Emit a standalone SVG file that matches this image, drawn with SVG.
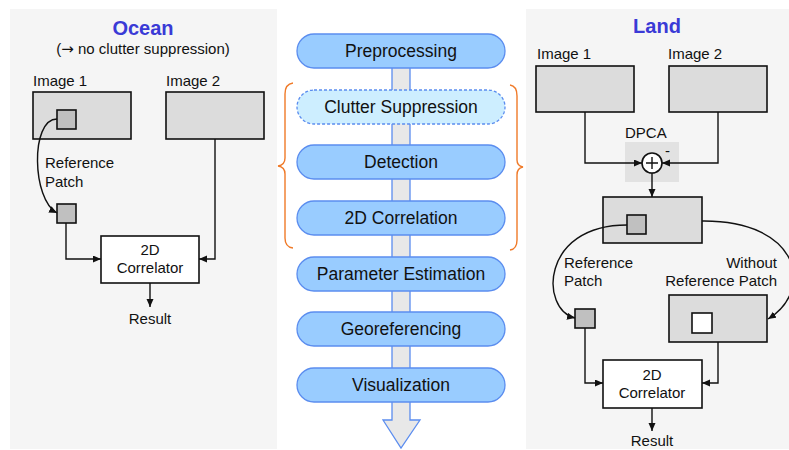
<svg xmlns="http://www.w3.org/2000/svg" width="789" height="450" viewBox="0 0 789 450">
<style>
text{font-family:"Liberation Sans",Arial,sans-serif;fill:#111}
.lbl{font-size:15px}
.ttl{font-size:20px;font-weight:bold;fill:#3a3ad6}
.pt{font-size:17.5px;text-anchor:middle}
.pill{fill:#99ccff;stroke:#5b8def;stroke-width:1.3}
.img{fill:#dcdcdc;stroke:#111;stroke-width:1.6}
.patch{fill:#c0c0c0;stroke:#111;stroke-width:1.6}
.box{fill:#fff;stroke:#111;stroke-width:1.6}
.con{fill:none;stroke:#111;stroke-width:1.4}
.brace{fill:none;stroke:#f07a28;stroke-width:1.4}
.mid{text-anchor:middle}
.end{text-anchor:end}
</style>
<defs>
<marker id="ah" markerUnits="userSpaceOnUse" markerWidth="9" markerHeight="8" refX="8" refY="3.5" orient="auto">
<path d="M0,0 L8,3.5 L0,7 z" fill="#111"/>
</marker>
</defs>
<rect x="10" y="9" width="267" height="440" fill="#f5f5f5"/>
<rect x="526" y="9" width="263" height="440" fill="#f5f5f5"/>

<g id="ocean">
<text class="ttl mid" x="143" y="35">Ocean</text>
<text class="lbl mid" x="143" y="54">(<tspan font-family="DejaVu Sans, sans-serif">→</tspan> no clutter suppression)</text>
</g>
<g id="o-image1">
<text class="lbl" x="33" y="86">Image 1</text>
<rect class="img" x="33" y="92" width="98" height="47"/>
<rect class="patch" x="57" y="110" width="19" height="19"/>
</g>
<g id="o-image2">
<text class="lbl" x="166" y="86">Image 2</text>
<rect class="img" x="166" y="92" width="98" height="47"/>
</g>
<g id="o-refpatch">
<text class="lbl" x="45" y="168">Reference</text>
<text class="lbl" x="45" y="187">Patch</text>
<rect class="patch" x="57" y="204" width="19" height="19"/>
</g>
<g id="o-correlator">
<rect class="box" x="101" y="236" width="98" height="47"/>
<text class="lbl mid" x="150" y="255">2D</text>
<text class="lbl mid" x="150" y="273">Correlator</text>
</g>
<g id="o-result"><text class="lbl mid" x="150" y="324">Result</text></g>

<g id="pipeline-arrow">
<path d="M392,50 H410 V420 H420 L401,448 L383,420 H392 Z" fill="#e8e8e8" stroke="#5b8def" stroke-width="1.3"/>
</g>
<g id="p-pre"><rect class="pill" x="297" y="34" width="208" height="34" rx="17"/><text class="pt" x="401" y="57">Preprocessing</text></g>
<g id="p-clutter"><rect x="297" y="90" width="208" height="34" rx="17" fill="#cdeeff" stroke="#5b8def" stroke-width="1.3" stroke-dasharray="3,2"/><text class="pt" x="401" y="113">Clutter Suppression</text></g>
<g id="p-det"><rect class="pill" x="297" y="145" width="208" height="34" rx="17"/><text class="pt" x="401" y="168">Detection</text></g>
<g id="p-corr"><rect class="pill" x="297" y="201" width="208" height="34" rx="17"/><text class="pt" x="401" y="224">2D Correlation</text></g>
<g id="p-param"><rect class="pill" x="297" y="257" width="208" height="34" rx="17"/><text class="pt" x="401" y="280">Parameter Estimation</text></g>
<g id="p-geo"><rect class="pill" x="297" y="312" width="208" height="34" rx="17"/><text class="pt" x="401" y="335">Georeferencing</text></g>
<g id="p-vis"><rect class="pill" x="297" y="368" width="208" height="34" rx="17"/><text class="pt" x="401" y="391">Visualization</text></g>
<g id="braces">
<path class="brace" d="M293,83 Q285,84 285,94 V158 Q285,165 278,166 Q285,167 285,174 V238 Q285,247 293,248"/>
<path class="brace" d="M510,85 Q517,86 517,96 V160 Q517,166 523,167 Q517,168 517,175 V240 Q517,249 510,250"/>
</g>

<g id="land">
<text class="ttl mid" x="657" y="33">Land</text>
</g>
<g id="l-image1">
<text class="lbl" x="537" y="59">Image 1</text>
<rect class="img" x="536" y="66" width="98" height="46"/>
</g>
<g id="l-image2">
<text class="lbl" x="668" y="59">Image 2</text>
<rect class="img" x="669" y="66" width="98" height="46"/>
</g>
<g id="l-dpca">
<text class="lbl" x="625" y="138">DPCA</text>
<rect x="625" y="142" width="54" height="40" fill="#e2e2e2"/>
<circle cx="652" cy="163" r="10" fill="#fff" stroke="#111" stroke-width="1.6"/>
<path d="M646,163 H658 M652,157 V169" stroke="#111" stroke-width="1.4"/>
<text class="lbl" x="665" y="156">-</text>
</g>
<g id="l-diff">
<rect class="img" x="603" y="197" width="99" height="46"/>
<rect class="patch" x="627" y="215" width="19" height="19"/>
</g>
<g id="l-refpatch">
<text class="lbl" x="564" y="268">Reference</text>
<text class="lbl" x="564" y="286">Patch</text>
<rect class="patch" x="575" y="309" width="20" height="19"/>
</g>
<g id="l-without">
<text class="lbl end" x="777" y="268">Without</text>
<text class="lbl end" x="777" y="286">Reference Patch</text>
<rect class="img" x="669" y="295" width="98" height="47"/>
<rect x="692" y="313" width="20" height="20" fill="#fff" stroke="#111" stroke-width="1.6"/>
</g>
<g id="l-correlator">
<rect class="box" x="603" y="360" width="99" height="48"/>
<text class="lbl mid" x="652" y="380">2D</text>
<text class="lbl mid" x="652" y="398">Correlator</text>
</g>
<g id="l-result"><text class="lbl mid" x="652" y="446">Result</text></g>

<g id="connectors">
<path class="con" d="M57,119 C30,119 32,200 57,213" marker-end="url(#ah)"/>
<path class="con" d="M66,223 V259 H101" marker-end="url(#ah)"/>
<path class="con" d="M215,139 V259 H199" marker-end="url(#ah)"/>
<path class="con" d="M150,283 V307" marker-end="url(#ah)"/>
<path class="con" d="M585,112 V163 H642" marker-end="url(#ah)"/>
<path class="con" d="M718,112 V163 H662" marker-end="url(#ah)"/>
<path class="con" d="M652,173 V197" marker-end="url(#ah)"/>
<path class="con" d="M627,225 C540,225 540,310 575,318" marker-end="url(#ah)"/>
<path class="con" d="M702,221 C800,220 815,290 768,319" marker-end="url(#ah)"/>
<path class="con" d="M585,328 V383 H603" marker-end="url(#ah)"/>
<path class="con" d="M718,342 V383 H702" marker-end="url(#ah)"/>
<path class="con" d="M652,408 V431" marker-end="url(#ah)"/>
</g>
</svg>
